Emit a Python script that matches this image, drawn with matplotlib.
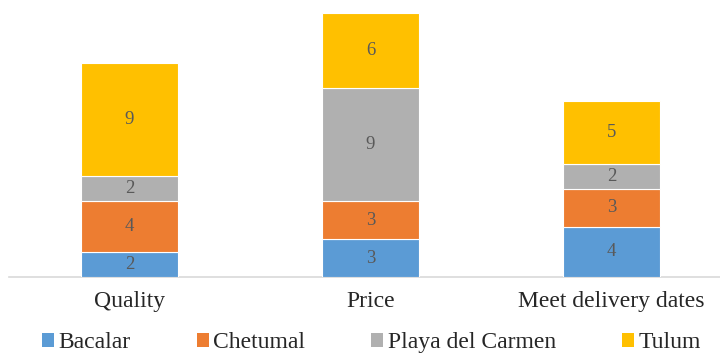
import numpy as np
import matplotlib.pyplot as plt
from matplotlib.patches import Patch

categories = ['Quality', 'Price', 'Meet delivery dates']
series_names = ['Bacalar', 'Chetumal', 'Playa del Carmen', 'Tulum']
bacalar = [2, 3, 4]
chetumal = [4, 3, 3]
playa = [2, 9, 2]
tulum = [9, 6, 5]

colors = ['#5B9BD5', '#ED7D31', '#B0B0B0', '#FFC000']

plt.rcParams['font.family'] = ['Liberation Serif', 'DejaVu Serif']

fig = plt.figure(figsize=(7.2, 3.57), dpi=100)
ax = fig.add_axes([9 / 720, 80 / 357, 711 / 720, 277 / 357])

x = np.arange(len(categories))
bottom = np.zeros(len(categories))
for name, vals, c in zip(series_names, [bacalar, chetumal, playa, tulum], colors):
    vals = np.array(vals, dtype=float)
    bars = ax.bar(x, vals, width=0.4, bottom=bottom, color=c, edgecolor='white',
                  linewidth=0.8, label=name, zorder=3)
    for b, v, b0 in zip(bars, vals, bottom):
        ax.text(b.get_x() + b.get_width() / 2, b0 + v / 2, f'{int(v)}',
                ha='center', va='center', fontsize=13.5, color='#595959', zorder=4)
    bottom += vals

ax.set_xlim(-0.5, 2.45)
ax.set_ylim(0, 22)
ax.set_xticks(x)
ax.set_xticklabels(categories, fontsize=17, color='#262626')
ax.tick_params(axis='x', length=0, pad=10)
ax.set_yticks([])
for s in ['top', 'right', 'left']:
    ax.spines[s].set_visible(False)
ax.spines['bottom'].set_color('#D9D9D9')
ax.spines['bottom'].set_linewidth(1.2)

handles = [Patch(facecolor=c, edgecolor='none') for c in colors]
fig.legend(handles, series_names, loc='center', bbox_to_anchor=(0.516, 0.04), ncol=4,
           frameon=False, fontsize=17, handlelength=0.5, handleheight=0.5,
           handletextpad=0.2, columnspacing=2.8, labelcolor='#262626',
           borderpad=0.1)

fig.savefig('out.png', dpi=100)
